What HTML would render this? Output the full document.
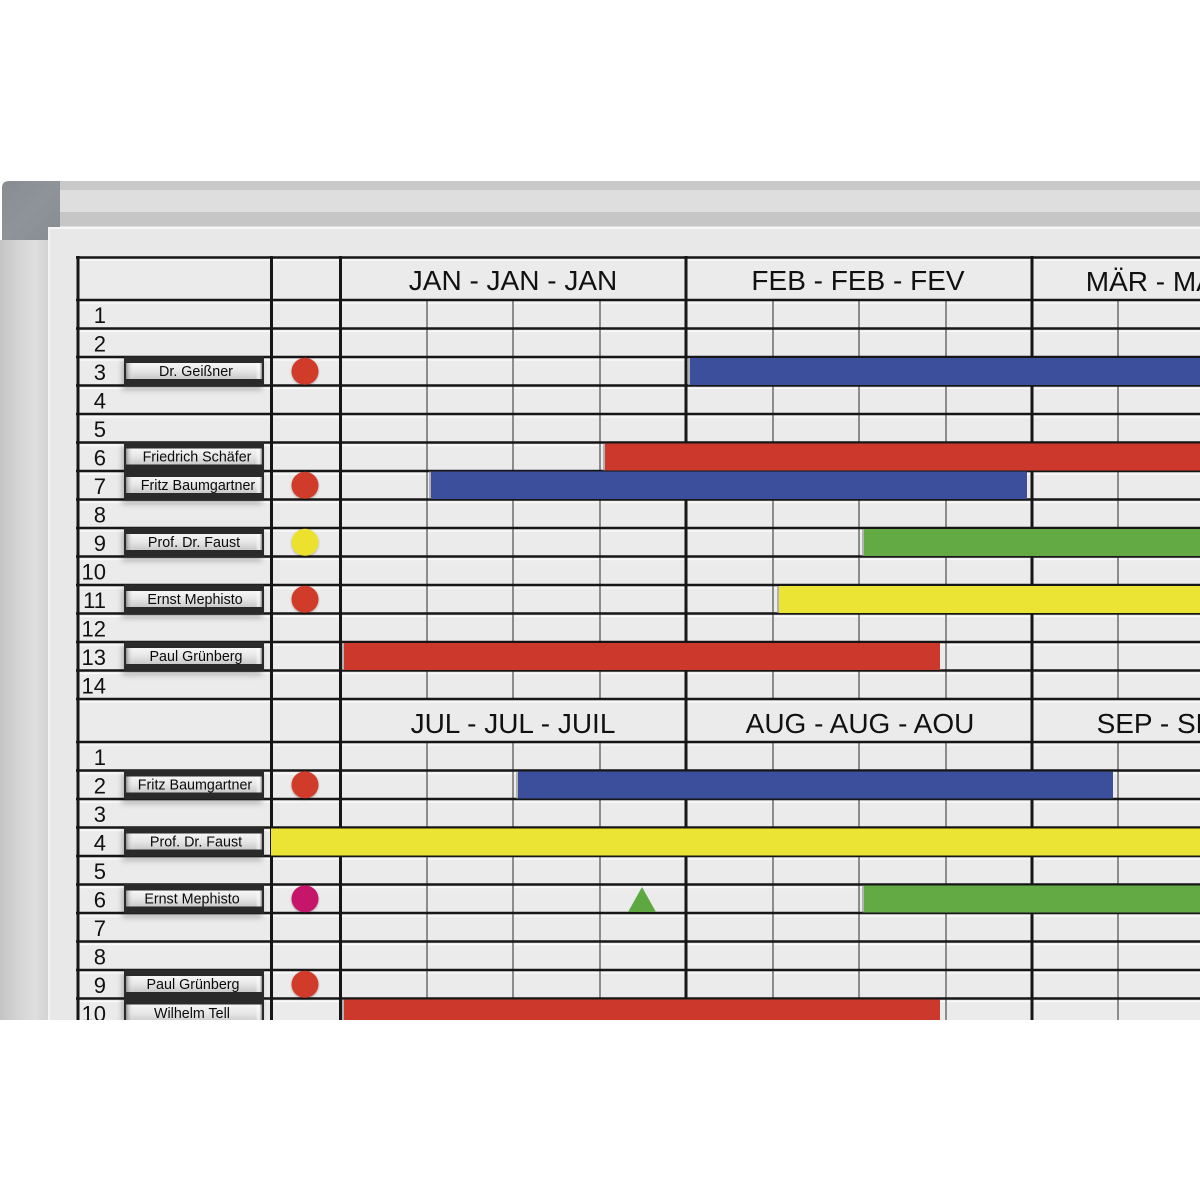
<!DOCTYPE html>
<html><head><meta charset="utf-8"><style>
html,body{margin:0;padding:0;background:#fff;}
svg{display:block;}
text{font-family:"Liberation Sans",Arial,sans-serif;}
</style></head><body>
<svg width="1200" height="1200" viewBox="0 0 1200 1200" xmlns="http://www.w3.org/2000/svg">
<defs>
<linearGradient id="lstrip" x1="0" x2="1" y1="0" y2="0">
<stop offset="0" stop-color="#c4c4c4"/><stop offset="0.35" stop-color="#d4d4d4"/><stop offset="0.7" stop-color="#dedede"/><stop offset="1" stop-color="#d2d2d2"/>
</linearGradient>
<linearGradient id="lab" x1="0" x2="0" y1="0" y2="1">
<stop offset="0" stop-color="#f6f6f6"/><stop offset="0.5" stop-color="#e6e6e6"/><stop offset="1" stop-color="#c9c9c9"/>
</linearGradient>
<linearGradient id="labEnds" x1="0" x2="1" y1="0" y2="0">
<stop offset="0" stop-color="#8a8a8a" stop-opacity="0.9"/><stop offset="0.03" stop-color="#bbb" stop-opacity="0.3"/><stop offset="0.06" stop-color="#fff" stop-opacity="0"/><stop offset="0.95" stop-color="#fff" stop-opacity="0"/><stop offset="0.98" stop-color="#fff" stop-opacity="0.7"/><stop offset="1" stop-color="#777" stop-opacity="0.8"/>
</linearGradient>
<linearGradient id="corner" x1="0" x2="1" y1="0" y2="1">
<stop offset="0" stop-color="#878c93"/><stop offset="0.5" stop-color="#8f949a"/><stop offset="1" stop-color="#878c93"/>
</linearGradient>
<filter id="sh" x="-20%" y="-40%" width="140%" height="200%">
<feDropShadow dx="-2" dy="4" stdDeviation="3" flood-color="#000" flood-opacity="0.25"/>
</filter>
<filter id="dsh" x="-30%" y="-30%" width="160%" height="160%">
<feDropShadow dx="0" dy="1" stdDeviation="1" flood-color="#000" flood-opacity="0.3"/>
</filter>
<clipPath id="clipB"><rect x="0" y="0" width="1200" height="1020"/></clipPath>
</defs>

<rect width="1200" height="1200" fill="#fff"/>
<g clip-path="url(#clipB)">
<!-- frame -->
<rect x="0" y="240" width="50" height="780" fill="url(#lstrip)"/>
<rect x="60" y="181" width="1140" height="46" fill="#dedede"/>
<rect x="60" y="181" width="1140" height="9" fill="#c9c9c9"/>
<rect x="60" y="212" width="1140" height="14" fill="#c6c6c6"/>
<path d="M2 188 Q2 181 9 181 L60 181 L60 240 L2 240 Z" fill="url(#corner)"/>
<!-- board -->
<rect x="48" y="227" width="1160" height="800" rx="4" fill="#e8e8e8"/>
<rect x="48" y="227" width="1160" height="2" fill="#f6f6f6"/>
<rect x="48" y="227" width="2" height="800" fill="#f3f3f3"/>

<!-- grid area -->
<rect x="77" y="257" width="1130" height="770" fill="#ebebeb"/>

<!-- highlight lines (white) -->
<g stroke="#fbfbfb" stroke-width="1.2">
<line x1="77" x2="1200" y1="260" y2="260"/>
<line x1="77" x2="1200" y1="303" y2="303"/>
<line x1="77" x2="1200" y1="331.5" y2="331.5"/>
<line x1="77" x2="1200" y1="360" y2="360"/>
<line x1="77" x2="1200" y1="388.5" y2="388.5"/>
<line x1="77" x2="1200" y1="417" y2="417"/>
<line x1="77" x2="1200" y1="445.5" y2="445.5"/>
<line x1="77" x2="1200" y1="474" y2="474"/>
<line x1="77" x2="1200" y1="502.5" y2="502.5"/>
<line x1="77" x2="1200" y1="531" y2="531"/>
<line x1="77" x2="1200" y1="559.5" y2="559.5"/>
<line x1="77" x2="1200" y1="588" y2="588"/>
<line x1="77" x2="1200" y1="616.5" y2="616.5"/>
<line x1="77" x2="1200" y1="645" y2="645"/>
<line x1="77" x2="1200" y1="673.5" y2="673.5"/>
<line x1="77" x2="1200" y1="702" y2="702"/>
<line x1="77" x2="1200" y1="745" y2="745"/>
<line x1="77" x2="1200" y1="773.5" y2="773.5"/>
<line x1="77" x2="1200" y1="802" y2="802"/>
<line x1="77" x2="1200" y1="830.5" y2="830.5"/>
<line x1="77" x2="1200" y1="859" y2="859"/>
<line x1="77" x2="1200" y1="887.5" y2="887.5"/>
<line x1="77" x2="1200" y1="916" y2="916"/>
<line x1="77" x2="1200" y1="944.5" y2="944.5"/>
<line x1="77" x2="1200" y1="973" y2="973"/>
<line x1="77" x2="1200" y1="1001.5" y2="1001.5"/>
</g>

<!-- sub lines (gray) -->
<g stroke="#8c8c8c" stroke-width="2">
<line x1="427" x2="427" y1="300" y2="699"/><line x1="513" x2="513" y1="300" y2="699"/><line x1="600" x2="600" y1="300" y2="699"/>
<line x1="773" x2="773" y1="300" y2="699"/><line x1="859" x2="859" y1="300" y2="699"/><line x1="946" x2="946" y1="300" y2="699"/>
<line x1="1118" x2="1118" y1="300" y2="699"/>
<line x1="427" x2="427" y1="742" y2="1020"/><line x1="513" x2="513" y1="742" y2="1020"/><line x1="600" x2="600" y1="742" y2="1020"/>
<line x1="773" x2="773" y1="742" y2="1020"/><line x1="859" x2="859" y1="742" y2="1020"/><line x1="946" x2="946" y1="742" y2="1020"/>
<line x1="1118" x2="1118" y1="742" y2="1020"/>
</g>

<!-- horizontal black lines -->
<g stroke="#161616" stroke-width="2.6">
<line x1="76" x2="1200" y1="257.5" y2="257.5"/>
<line x1="76" x2="1200" y1="300" y2="300"/>
<line x1="76" x2="1200" y1="328.5" y2="328.5"/>
<line x1="76" x2="1200" y1="357" y2="357"/>
<line x1="76" x2="1200" y1="385.5" y2="385.5"/>
<line x1="76" x2="1200" y1="414" y2="414"/>
<line x1="76" x2="1200" y1="442.5" y2="442.5"/>
<line x1="76" x2="1200" y1="471" y2="471"/>
<line x1="76" x2="1200" y1="499.5" y2="499.5"/>
<line x1="76" x2="1200" y1="528" y2="528"/>
<line x1="76" x2="1200" y1="556.5" y2="556.5"/>
<line x1="76" x2="1200" y1="585" y2="585"/>
<line x1="76" x2="1200" y1="613.5" y2="613.5"/>
<line x1="76" x2="1200" y1="642" y2="642"/>
<line x1="76" x2="1200" y1="670.5" y2="670.5"/>
<line x1="76" x2="1200" y1="699" y2="699"/>
<line x1="76" x2="1200" y1="742" y2="742"/>
<line x1="76" x2="1200" y1="770.5" y2="770.5"/>
<line x1="76" x2="1200" y1="799" y2="799"/>
<line x1="76" x2="1200" y1="827.5" y2="827.5"/>
<line x1="76" x2="1200" y1="856" y2="856"/>
<line x1="76" x2="1200" y1="884.5" y2="884.5"/>
<line x1="76" x2="1200" y1="913" y2="913"/>
<line x1="76" x2="1200" y1="941.5" y2="941.5"/>
<line x1="76" x2="1200" y1="970" y2="970"/>
<line x1="76" x2="1200" y1="998.5" y2="998.5"/>
</g>
<!-- vertical black lines -->
<g stroke="#161616" stroke-width="3">
<line x1="78" x2="78" y1="256" y2="1020"/>
<line x1="271.5" x2="271.5" y1="256" y2="1020"/>
<line x1="340.5" x2="340.5" y1="256" y2="1020"/>
<line x1="686" x2="686" y1="256" y2="1020"/>
<line x1="1032" x2="1032" y1="256" y2="1020"/>
</g>

<!-- bars -->
<g>
<rect x="690" y="358" width="520" height="27" fill="#3b4f9c"/>
<rect x="605" y="443.5" width="605" height="27" fill="#cc392c"/>
<rect x="431" y="471.5" width="596" height="27.5" fill="#3b4f9c"/>
<rect x="864" y="529" width="346" height="27" fill="#63aa45"/>
<rect x="779" y="586" width="431" height="27" fill="#ebe434"/>
<rect x="344" y="643" width="596" height="27" fill="#cc392c"/>
<rect x="518" y="771.5" width="595" height="27" fill="#3b4f9c"/>
<rect x="271" y="828.5" width="939" height="27" fill="#ebe434"/>
<rect x="864" y="885.5" width="346" height="27" fill="#63aa45"/>
<rect x="344" y="999.5" width="596" height="27" fill="#cc392c"/>
</g>
<!-- bar left edge shading -->
<g fill="#9a9a9a" opacity="0.7">
<rect x="688" y="358" width="2" height="27"/>
<rect x="603" y="443.5" width="2" height="27"/>
<rect x="429" y="471.5" width="2" height="27"/>
<rect x="862" y="529" width="2" height="27"/>
<rect x="777" y="586" width="2" height="27"/>
<rect x="342" y="643" width="2" height="27"/>
<rect x="516" y="771.5" width="2" height="27"/>
<rect x="862" y="885.5" width="2" height="27"/>
<rect x="342" y="999.5" width="2" height="27"/>
</g>

<!-- triangle -->
<polygon points="642,887 656,912 628,912" fill="#5ea842"/>

<!-- dots -->
<g filter="url(#dsh)">
<circle cx="305" cy="371.3" r="13.5" fill="#d13a2c"/>
<circle cx="305" cy="485.3" r="13.5" fill="#d13a2c"/>
<circle cx="305" cy="542.3" r="13.5" fill="#ece22f"/>
<circle cx="305" cy="599.3" r="13.5" fill="#d13a2c"/>
<circle cx="305" cy="784.8" r="13.5" fill="#d13a2c"/>
<circle cx="305" cy="898.8" r="13.5" fill="#c5156b"/>
<circle cx="305" cy="984.3" r="13.5" fill="#d13a2c"/>
</g>

<!-- label holders -->
<g>
<g filter="url(#sh)">
<rect x="124" y="356.5" width="140" height="29.5" fill="#2a2a2a"/>
<rect x="124" y="442" width="140" height="58" fill="#2a2a2a"/>
<rect x="124" y="527.5" width="140" height="29.5" fill="#2a2a2a"/>
<rect x="124" y="584.5" width="140" height="29.5" fill="#2a2a2a"/>
<rect x="124" y="641.5" width="140" height="29.5" fill="#2a2a2a"/>
<rect x="124" y="770" width="140" height="29.5" fill="#2a2a2a"/>
<rect x="124" y="827" width="140" height="29.5" fill="#2a2a2a"/>
<rect x="124" y="884" width="140" height="29.5" fill="#2a2a2a"/>
<rect x="124" y="969.5" width="140" height="60" fill="#2a2a2a"/>
</g>
<g>
<rect x="126" y="363" width="136" height="16" fill="url(#lab)"/><rect x="126" y="363" width="136" height="16" fill="url(#labEnds)"/>
<rect x="126" y="448.5" width="136" height="16" fill="url(#lab)"/><rect x="126" y="448.5" width="136" height="16" fill="url(#labEnds)"/>
<rect x="126" y="477" width="136" height="16" fill="url(#lab)"/><rect x="126" y="477" width="136" height="16" fill="url(#labEnds)"/>
<rect x="126" y="534" width="136" height="16" fill="url(#lab)"/><rect x="126" y="534" width="136" height="16" fill="url(#labEnds)"/>
<rect x="126" y="591" width="136" height="16" fill="url(#lab)"/><rect x="126" y="591" width="136" height="16" fill="url(#labEnds)"/>
<rect x="126" y="648" width="136" height="16" fill="url(#lab)"/><rect x="126" y="648" width="136" height="16" fill="url(#labEnds)"/>
<rect x="126" y="776.5" width="136" height="16" fill="url(#lab)"/><rect x="126" y="776.5" width="136" height="16" fill="url(#labEnds)"/>
<rect x="126" y="833.5" width="136" height="16" fill="url(#lab)"/><rect x="126" y="833.5" width="136" height="16" fill="url(#labEnds)"/>
<rect x="126" y="890.5" width="136" height="16" fill="url(#lab)"/><rect x="126" y="890.5" width="136" height="16" fill="url(#labEnds)"/>
<rect x="126" y="976" width="136" height="16" fill="url(#lab)"/><rect x="126" y="976" width="136" height="16" fill="url(#labEnds)"/>
<rect x="126" y="1004.5" width="136" height="18" fill="url(#lab)"/><rect x="126" y="1004.5" width="136" height="18" fill="url(#labEnds)"/>
</g>
<g font-size="14.3" fill="#0a0a0a" text-anchor="middle">
<text x="196" y="376">Dr. Geißner</text>
<text x="197" y="461.5">Friedrich Schäfer</text>
<text x="198" y="490">Fritz Baumgartner</text>
<text x="194" y="547">Prof. Dr. Faust</text>
<text x="195" y="604">Ernst Mephisto</text>
<text x="196" y="661">Paul Grünberg</text>
<text x="195" y="789.5">Fritz Baumgartner</text>
<text x="196" y="846.5">Prof. Dr. Faust</text>
<text x="192" y="903.5">Ernst Mephisto</text>
<text x="193" y="989">Paul Grünberg</text>
<text x="192" y="1018">Wilhelm Tell</text>
</g>
</g>

<!-- row numbers -->
<g font-size="22" fill="#111" text-anchor="end">
<text x="106" y="323">1</text>
<text x="106" y="351.5">2</text>
<text x="106" y="380">3</text>
<text x="106" y="408.5">4</text>
<text x="106" y="437">5</text>
<text x="106" y="465.5">6</text>
<text x="106" y="494">7</text>
<text x="106" y="522.5">8</text>
<text x="106" y="551">9</text>
<text x="106" y="579.5">10</text>
<text x="106" y="608">11</text>
<text x="106" y="636.5">12</text>
<text x="106" y="665">13</text>
<text x="106" y="693.5">14</text>
<text x="106" y="765">1</text>
<text x="106" y="793.5">2</text>
<text x="106" y="822">3</text>
<text x="106" y="850.5">4</text>
<text x="106" y="879">5</text>
<text x="106" y="907.5">6</text>
<text x="106" y="936">7</text>
<text x="106" y="964.5">8</text>
<text x="106" y="993">9</text>
<text x="106" y="1021.5">10</text>
</g>

<!-- month headers -->
<g font-size="28" fill="#111" text-anchor="middle">
<text x="513" y="290">JAN - JAN - JAN</text>
<text x="858" y="290">FEB - FEB - FEV</text>
<text x="1204" y="291">MÄR - MÄR - MAR</text>
<text x="513" y="733">JUL - JUL - JUIL</text>
<text x="860" y="733">AUG - AUG - AOU</text>
<text x="1205" y="733">SEP - SEP - SEP</text>
</g>
</g>
</svg>
</body></html>
